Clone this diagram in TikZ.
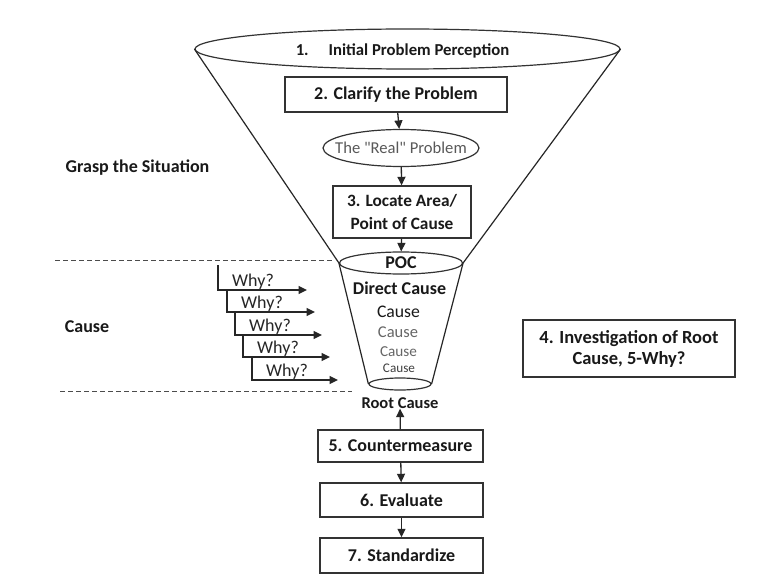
\documentclass[tikz,border=0pt]{standalone}
\usepackage{fontspec}
\setmainfont{Carlito}
\newfontfamily\plaincarlito{Carlito}[Ligatures=ResetAll]
\usetikzlibrary{shapes.geometric,arrows.meta}
\begin{document}
\begin{tikzpicture}[x=1pt,y=-1pt,
  ln/.style={line width=1.2pt, draw=black!85},
  box/.style={draw=black!80, line width=1.4pt, inner sep=0pt, align=center, font=\bfseries\fontsize{18}{22}\selectfont, text=black!90},
  oval/.style={ellipse, draw=black!80, line width=1.2pt, inner sep=0pt},
  arr/.style={-{Triangle[length=8.5pt,width=8pt]}, line width=1.3pt, draw=black!85},
  dsh/.style={dash pattern=on 5pt off 3pt, line width=1pt, draw=black!70},
  lbl/.style={font=\bfseries\fontsize{18}{22}\selectfont, text=black!90, inner sep=0pt},
  why/.style={font=\fontsize{18}{22}\selectfont, text=black!85, inner sep=0pt, anchor=base west},
]
\useasboundingbox[fill=white] (0,0) rectangle (774,575);

% top funnel
\node[oval, minimum width=425pt, minimum height=40pt] (top) at (407.5,49) {};
\node[lbl, font=\bfseries\fontsize{16.7}{20}\selectfont] (t1) at (402.5,51) {1.\hspace{20pt}Initial Problem Perception};
\node[oval, minimum width=123pt, minimum height=22pt, font=\bfseries\fontsize{18}{22}\selectfont, text=black!90] (poc) at (401,263) {POC};
\draw[ln] (top.west) -- (poc.west);
\draw[ln] (top.east) -- (poc.east);

\node[box, minimum width=222pt, minimum height=35pt] (b2) at (396,94.5) {2. Clarify the Problem};
\node[oval, minimum width=156pt, minimum height=37pt, inner xsep=-25pt, font=\plaincarlito\fontsize{16.6}{20}\selectfont, text=black!65] (real) at (401,148) {The "Real" Problem};
\node[box, minimum width=138pt, minimum height=52pt, font=\bfseries\fontsize{17.3}{22.3}\selectfont] (b3) at (402,212) {3. Locate Area/\\Point of Cause};
\draw[arr] (b2) -- (real);
\draw[arr] (real) -- (b3);
\draw[arr] (b3) -- (poc);

% small funnel
\node[oval, minimum width=62pt, minimum height=12pt] (bot) at (400,384) {};
\draw[ln] (poc.west) -- (bot.west);
\draw[ln] (poc.east) -- (bot.east);
\node[lbl] (dc) at (399.5,288) {Direct Cause};
\node[inner sep=0pt, font=\fontsize{17.7}{20}\selectfont, text=black!90] (c1) at (398.5,312) {Cause};
\node[inner sep=0pt, font=\fontsize{16.5}{20}\selectfont, text=black!60] (c2) at (398,332) {Cause};
\node[inner sep=0pt, font=\fontsize{15.2}{18}\selectfont, text=black!60] (c3) at (398.5,352) {Cause};
\node[inner sep=0pt, font=\fontsize{13.2}{16}\selectfont, text=black!75] (c4) at (399,368) {Cause};
\node[lbl, font=\bfseries\fontsize{16.5}{20}\selectfont] (root) at (400,403) {Root Cause};

% side labels
\node[lbl] (grasp) at (137.5,168) {Grasp the Situation};
\node[lbl] (cause) at (87,327) {Cause};
\node[box, minimum width=212pt, minimum height=57pt, font=\bfseries\fontsize{18.5}{21}\selectfont] (b4) at (629,348.5) {4. Investigation of Root\\Cause, 5-Why?};

% dashed separators
\coordinate (d1a) at (55,260); \coordinate (d1b) at (334,260);
\coordinate (d2a) at (60,391); \coordinate (d2b) at (352,391);
\draw[dsh] (d1a) -- (d1b);
\draw[dsh] (d2a) -- (d2b);

% why arrows
\foreach \i/\x/\yy/\t/\yp in {1/218/290/307/265, 2/227/312/315/290, 3/235/335/322/312, 4/243/357/330/335, 5/252/380/338/357} {
  \coordinate (ws\i) at (\x,\yp);
  \coordinate (wc\i) at (\x,\yy);
  \coordinate (we\i) at (\t,\yy);
  \draw[arr] (ws\i) -- (wc\i) -- (we\i);
  \node[why] (wt\i) at (\x+14,\yy-4) {Why?};
}

% bottom boxes
\node[box, minimum width=165pt, minimum height=32pt] (b5) at (400.5,446) {5. Countermeasure};
\node[box, minimum width=163pt, minimum height=34pt] (b6) at (401.5,500) {6. Evaluate};
\node[box, minimum width=163pt, minimum height=35pt] (b7) at (401.5,555.5) {7. Standardize};
\draw[arr] (b5) -- (root);
\draw[arr] (b5) -- (b6);
\draw[arr] (b6) -- (b7);
\end{tikzpicture}
\end{document}
